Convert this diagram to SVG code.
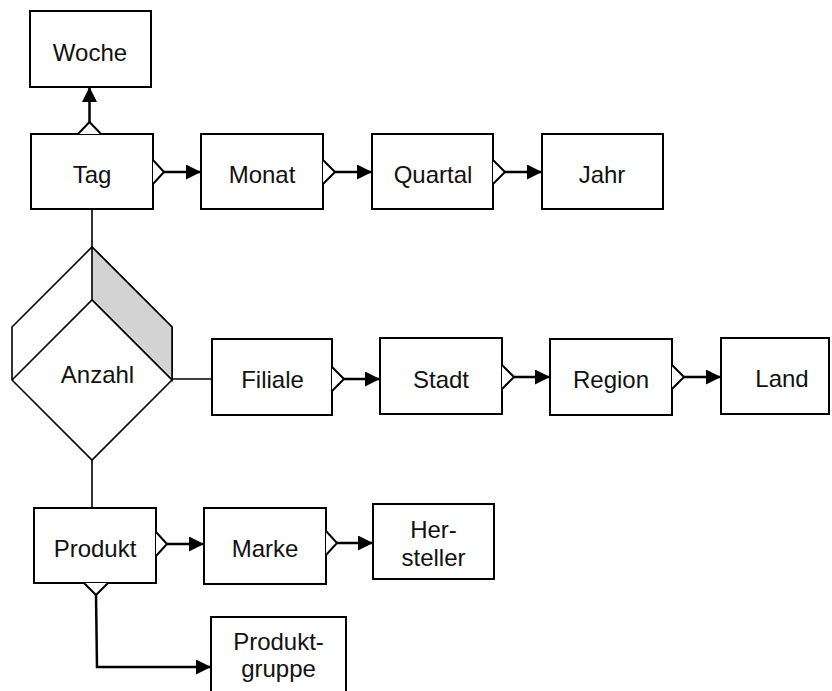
<svg xmlns="http://www.w3.org/2000/svg" width="832" height="691" viewBox="0 0 832 691">
  <style>
    .box { fill: #ffffff; stroke: #000000; stroke-width: 2; }
    .lbl { font-family: "Liberation Sans", Arial, sans-serif; font-size: 24px; fill: #111111; text-anchor: middle; }
    .conn { fill: none; stroke: #000000; stroke-width: 2.5; }
    .thin { fill: none; stroke: #000000; stroke-width: 1.6; }
    .crow { fill: #ffffff; stroke: #000000; stroke-width: 2; stroke-linejoin: miter; }
    .cube { fill: #ffffff; stroke: #000000; stroke-width: 1.6; stroke-linejoin: miter; }
  </style>
  <defs>
    <marker id="arrow" markerUnits="userSpaceOnUse" markerWidth="17" markerHeight="16" refX="15" refY="7.5" orient="auto">
      <path d="M0,0 L15,7.5 L0,15 z" fill="#000000"/>
    </marker>
  </defs>
  <rect width="832" height="691" fill="#ffffff"/>

  <!-- fact: Anzahl -->
  <g id="anzahl">
    <polygon class="cube" points="92,247 172,327 172,380 92,460 12,380 12,327"/>
    <polygon points="92,247 172,327 172,380 92,300" fill="#d3d3d3" stroke="#000000" stroke-width="1.6"/>
    <polyline class="cube" fill="none" points="12,380 92,300 172,380"/>
    <text class="lbl" x="97.5" y="383">Anzahl</text>
  </g>

  <!-- time dimension -->
  <g id="woche">
    <rect class="box" x="30" y="11" width="121" height="76"/>
    <text class="lbl" x="90" y="61">Woche</text>
  </g>
  <g id="tag">
    <rect class="box" x="31" y="134" width="122" height="75"/>
    <text class="lbl" x="92" y="183">Tag</text>
  </g>
  <g id="monat">
    <rect class="box" x="201" y="134" width="122" height="75"/>
    <text class="lbl" x="262" y="183">Monat</text>
  </g>
  <g id="quartal">
    <rect class="box" x="372" y="134" width="121" height="75"/>
    <text class="lbl" x="433" y="183">Quartal</text>
  </g>
  <g id="jahr">
    <rect class="box" x="542" y="134" width="121" height="75"/>
    <text class="lbl" x="602" y="183">Jahr</text>
  </g>

  <!-- store dimension -->
  <g id="filiale">
    <rect class="box" x="212" y="339" width="120" height="76"/>
    <text class="lbl" x="272.5" y="388">Filiale</text>
  </g>
  <g id="stadt">
    <rect class="box" x="380" y="338" width="122" height="76"/>
    <text class="lbl" x="441" y="388">Stadt</text>
  </g>
  <g id="region">
    <rect class="box" x="550" y="339" width="122" height="76"/>
    <text class="lbl" x="611" y="388">Region</text>
  </g>
  <g id="land">
    <rect class="box" x="721" y="338" width="108" height="76"/>
    <text class="lbl" x="782" y="387">Land</text>
  </g>

  <!-- product dimension -->
  <g id="produkt">
    <rect class="box" x="34" y="508" width="122" height="75"/>
    <text class="lbl" x="95" y="557">Produkt</text>
  </g>
  <g id="marke">
    <rect class="box" x="204" y="508" width="122" height="76"/>
    <text class="lbl" x="265" y="557">Marke</text>
  </g>
  <g id="hersteller">
    <rect class="box" x="373" y="504" width="121" height="75"/>
    <text class="lbl" x="433.5" y="538">Her-</text>
    <text class="lbl" x="433.5" y="566">steller</text>
  </g>
  <g id="produktgruppe">
    <rect class="box" x="211" y="617" width="135" height="90"/>
    <text class="lbl" x="278.5" y="650">Produkt-</text>
    <text class="lbl" x="278.5" y="677">gruppe</text>
  </g>

  <!-- connectors -->
  <g id="connectors">
    <!-- fact to dimensions -->
    <line class="thin" x1="92" y1="209" x2="92" y2="247"/>
    <line class="thin" x1="172" y1="379" x2="212" y2="379"/>
    <line class="thin" x1="92" y1="460" x2="92" y2="508"/>

    <!-- Tag -> Woche -->
    <line class="conn" x1="89.5" y1="122" x2="89.5" y2="87" marker-end="url(#arrow)"/>
    <polyline class="crow" points="78,134 89.5,122 101,134"/>

    <!-- Tag -> Monat -> Quartal -> Jahr -->
    <line class="conn" x1="164" y1="172" x2="201" y2="172" marker-end="url(#arrow)"/>
    <polyline class="crow" points="153,160 164,172 153,184"/>
    <line class="conn" x1="335" y1="172" x2="372" y2="172" marker-end="url(#arrow)"/>
    <polyline class="crow" points="323,160 335,172 323,184"/>
    <line class="conn" x1="505" y1="172" x2="542" y2="172" marker-end="url(#arrow)"/>
    <polyline class="crow" points="493,160 505,172 493,184"/>

    <!-- Filiale -> Stadt -> Region -> Land -->
    <line class="conn" x1="344" y1="379" x2="380" y2="379" marker-end="url(#arrow)"/>
    <polyline class="crow" points="332,367 344,379 332,391"/>
    <line class="conn" x1="514" y1="377" x2="550" y2="377" marker-end="url(#arrow)"/>
    <polyline class="crow" points="502,365 514,377 502,389"/>
    <line class="conn" x1="684" y1="377" x2="721" y2="377" marker-end="url(#arrow)"/>
    <polyline class="crow" points="672,365 684,377 672,389"/>

    <!-- Produkt -> Marke -> Hersteller -->
    <line class="conn" x1="167" y1="544" x2="204" y2="544" marker-end="url(#arrow)"/>
    <polyline class="crow" points="156,532 167,544 156,556"/>
    <line class="conn" x1="337" y1="543" x2="373" y2="543" marker-end="url(#arrow)"/>
    <polyline class="crow" points="326,531 337,543 326,555"/>

    <!-- Produkt -> Produktgruppe -->
    <polyline class="conn" points="96,595 97,667 211,667" marker-end="url(#arrow)"/>
    <polyline class="crow" points="84,583 96,595 108,583"/>
  </g>
</svg>
